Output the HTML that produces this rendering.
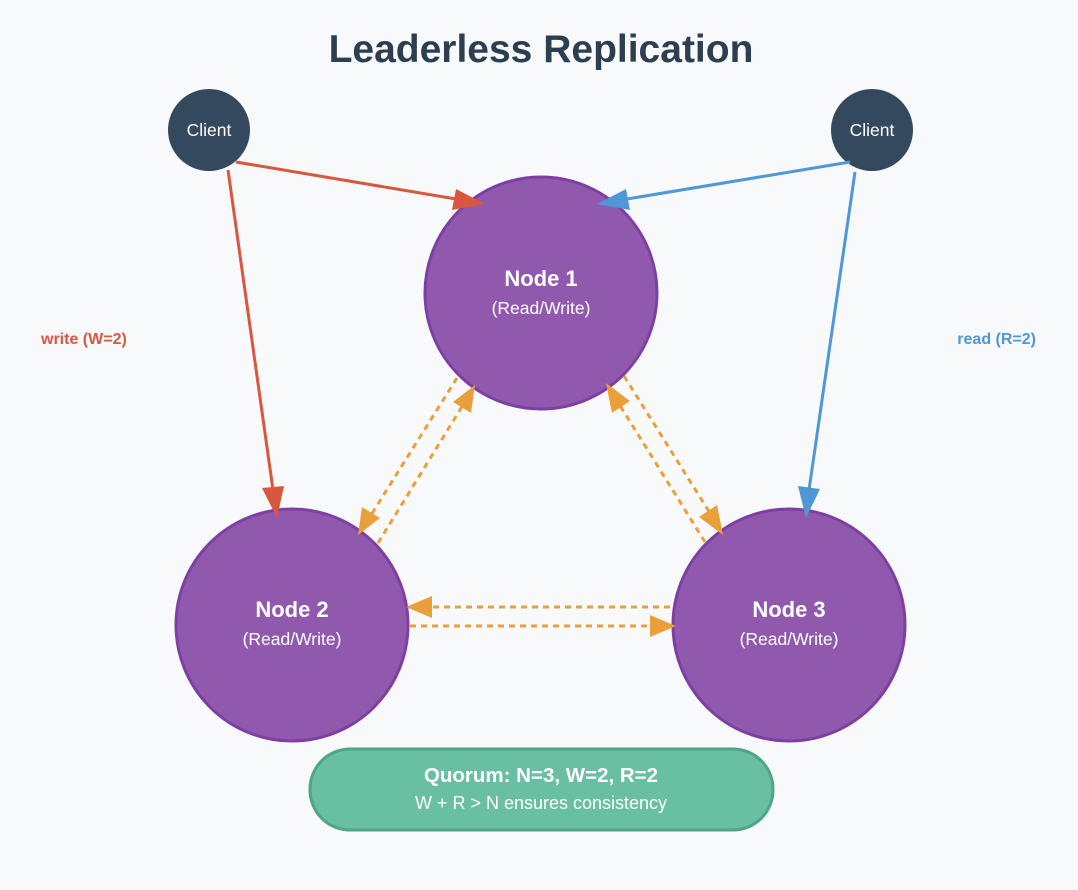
<!DOCTYPE html>
<html><head><meta charset="utf-8"><style>
html,body{margin:0;padding:0;background:#f7f9fb;}
svg{display:block;}
text{font-family:"Liberation Sans",Arial,sans-serif;}
</style></head><body>
<svg width="1078" height="890" viewBox="0 0 1078 890" xmlns="http://www.w3.org/2000/svg">
<rect width="1078" height="890" fill="#f7f9fb"/>
<text x="541" y="62" text-anchor="middle" font-size="39" font-weight="bold" fill="#2c3e50">Leaderless Replication</text>

<circle cx="209" cy="130" r="41" fill="#34495e"/>
<text x="209" y="136" text-anchor="middle" font-size="17.5" fill="#fff">Client</text>
<circle cx="872" cy="130" r="41" fill="#34495e"/>
<text x="872" y="136" text-anchor="middle" font-size="17.5" fill="#fff">Client</text>

<g fill="#9059ae" stroke="#7e3fa3" stroke-width="3">
<circle cx="541" cy="293" r="116"/>
<circle cx="292" cy="625" r="116"/>
<circle cx="789" cy="625" r="116"/>
</g>
<g fill="#fff" text-anchor="middle">
<text x="541" y="286" font-size="22" font-weight="bold">Node 1</text>
<text x="541" y="314" font-size="17.5">(Read/Write)</text>
<text x="292" y="617" font-size="22" font-weight="bold">Node 2</text>
<text x="292" y="645" font-size="17.5">(Read/Write)</text>
<text x="789" y="617" font-size="22" font-weight="bold">Node 3</text>
<text x="789" y="645" font-size="17.5">(Read/Write)</text>
</g>

<!-- red -->
<g stroke="#d9573f" stroke-width="3">
<line x1="236" y1="162" x2="456" y2="199"/>
<line x1="228" y1="170" x2="273" y2="490"/>
</g>
<polygon points="485,204 452,210 456,189" fill="#d9573f"/>
<polygon points="277,518 262,488 284,486" fill="#d9573f"/>
<!-- blue -->
<g stroke="#4f97d6" stroke-width="3">
<line x1="850" y1="162" x2="627" y2="199"/>
<line x1="855" y1="172" x2="809" y2="490"/>
</g>
<polygon points="597,204 626,189 630,210" fill="#4f97d6"/>
<polygon points="806,518 798,486 820,489" fill="#4f97d6"/>

<!-- orange dashed -->
<g stroke="#e9a03b" stroke-width="3" stroke-dasharray="6,5" fill="none">
<line x1="457" y1="378" x2="371" y2="515"/>
<line x1="378" y1="543" x2="463" y2="405"/>
<line x1="624" y1="376" x2="710" y2="513"/>
<line x1="705" y1="542" x2="619" y2="404"/>
<line x1="670" y1="607" x2="430" y2="607"/>
<line x1="410" y1="626" x2="652" y2="626"/>
</g>
<g fill="#e9a03b">
<polygon points="358,535 362,507 380,518"/>
<polygon points="475,385 471,413 453,402"/>
<polygon points="723,535 699,517 717,505"/>
<polygon points="606,383 630,401 612,413"/>
<polygon points="406,607 432,596 432,618"/>
<polygon points="676,626 650,615 650,637"/>
</g>

<text x="41" y="344" font-size="16" font-weight="bold" fill="#d9573f">write (W=2)</text>
<text x="1036" y="344" text-anchor="end" font-size="16" font-weight="bold" fill="#4f97d6">read (R=2)</text>

<rect x="310" y="749" width="463" height="81" rx="40" fill="#69bfa2" stroke="#4fa586" stroke-width="3"/>
<text x="541" y="782" text-anchor="middle" font-size="20.5" font-weight="bold" fill="#fff">Quorum: N=3, W=2, R=2</text>
<text x="541" y="809" text-anchor="middle" font-size="18" fill="#fff">W + R &gt; N ensures consistency</text>
</svg>
</body></html>
